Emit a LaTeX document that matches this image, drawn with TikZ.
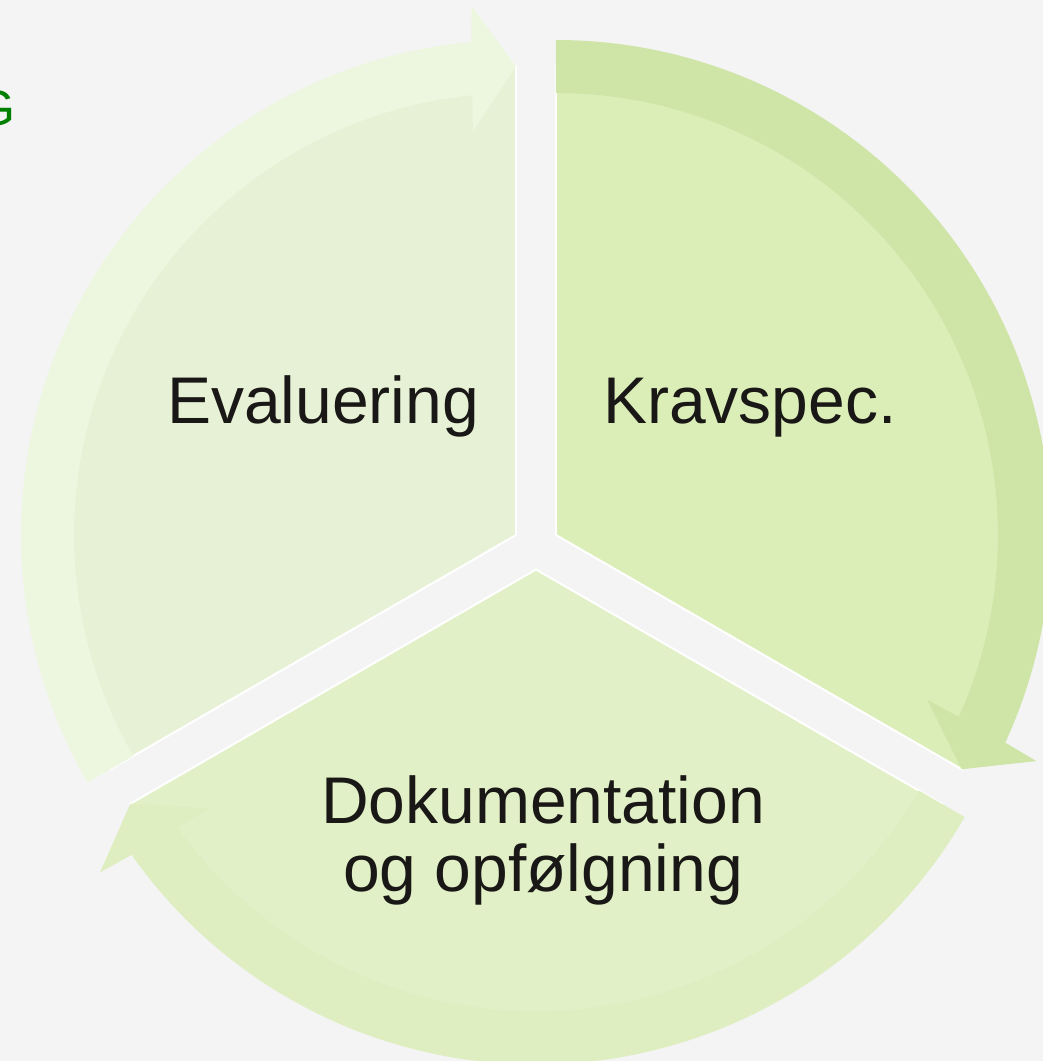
\documentclass[tikz,border=0pt]{standalone}
\usepackage{fontspec}
\setmainfont{Liberation Sans}
\usepackage{color}
\definecolor{mybackground}{RGB}{244,244,244}
\definecolor{myevalwedge}{RGB}{231,241,213}
\definecolor{myevalband}{RGB}{237,247,223}
\definecolor{mykravwedge}{RGB}{220,238,184}
\definecolor{mykravband}{RGB}{207,229,168}
\definecolor{mydokwedge}{RGB}{225,240,198}
\definecolor{mydokband}{RGB}{222,238,193}
\definecolor{mytext}{RGB}{26,24,22}
\definecolor{mytitlegreen}{RGB}{0,128,0}
\usepackage{tikz}
\usetikzlibrary{calc,positioning}
\tikzstyle{wedge}=[draw=white,line width=1pt]
\tikzstyle{seglabel}=[text=mytext,inner sep=0pt,align=center,font=\fontsize{33}{34}\selectfont]

\begin{document}
\begin{tikzpicture}[x=0.5pt,y=0.5pt]
\fill[mybackground] (-536,-514.5) rectangle (507,546.5);
\useasboundingbox (-536,-514.5) rectangle (507,546.5);
% centres of the three segments
\coordinate (kc) at (30:23);
\coordinate (ec) at (150:23);
\coordinate (dc) at (270:23);
% segments
\filldraw[wedge,fill=mykravwedge] (kc) -- ++(90:469) arc[start angle=90,end angle=-30,radius=469] -- cycle;
\filldraw[wedge,fill=mydokwedge] (dc) -- ++(-30:469) arc[start angle=-30,end angle=-150,radius=469] -- cycle;
\filldraw[wedge,fill=myevalwedge] (ec) -- ++(-150:469) arc[start angle=-150,end angle=-270,radius=469] -- cycle;
% arrows
\fill[mykravband] ($(kc)+(90:495)$) arc[start angle=90,end angle=-24.8,radius=495]
  -- ($(kc)+(-25.2:531)$) -- ($(kc)+(-30:468.5)$) -- ($(kc)+(-23.9:406)$)
  -- ($(kc)+(-24.3:442)$) arc[start angle=-24.3,end angle=90,radius=442] -- cycle;
\fill[mydokband] ($(dc)+(-30:495)$) arc[start angle=-30,end angle=-144.8,radius=495]
  -- ($(dc)+(-145.2:531)$) -- ($(dc)+(-150:468.5)$) -- ($(dc)+(-143.9:406)$)
  -- ($(dc)+(-144.3:442)$) arc[start angle=-144.3,end angle=-30,radius=442] -- cycle;
\fill[myevalband] ($(ec)+(-150:495)$) arc[start angle=-150,end angle=-264.8,radius=495]
  -- ($(ec)+(-265.2:531)$) -- ($(ec)+(-270:468.5)$) -- ($(ec)+(-263.9:406)$)
  -- ($(ec)+(-264.3:442)$) arc[start angle=-264.3,end angle=-150,radius=442] -- cycle;
% labels
\node [seglabel,anchor=base] (krav) at (214,123.2) {Kravspec.};
\node [seglabel,anchor=base] (eval) at (-213,123.2) {Evaluering};
\node [seglabel,anchor=center] (dok) at (7,-294) {Dokumentation\\og opfølgning};
\node [anchor=base east,inner sep=0pt,text=mytitlegreen,font=\fontsize{25}{27}\selectfont] (title) at (-520,421) {G};
\end{tikzpicture}
\end{document}
